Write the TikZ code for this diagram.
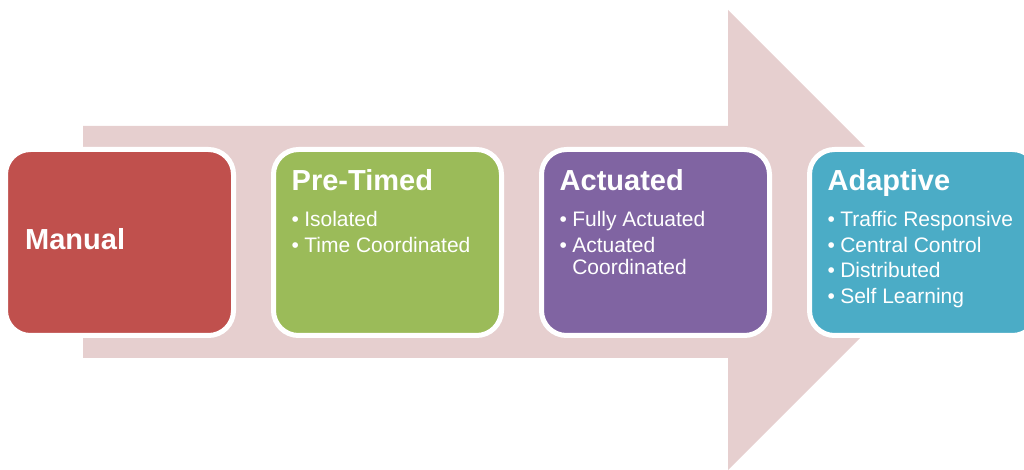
\documentclass[tikz,border=0pt]{standalone}
\usepackage{fontspec}
\setmainfont{Liberation Sans}
\usepackage{tikz}
\usetikzlibrary{positioning,calc}
\definecolor{arrowpink}{RGB}{230,207,207}
\definecolor{manualred}{HTML}{C0504D}
\definecolor{pretimedgreen}{HTML}{9BBB59}
\definecolor{actuatedpurple}{HTML}{8064A2}
\definecolor{adaptiveteal}{HTML}{4BACC6}
\newcommand{\stagelist}[1]{\begin{tabular}[t]{@{}l@{\hspace{.25em}}l@{}}#1\end{tabular}}
\tikzset{
	flow arrow/.style={fill=arrowpink,draw=none},
	stage/.style={draw=white,line width=5pt,fill=#1,rounded corners=25pt,
		minimum width=228pt,minimum height=186pt,inner sep=0pt,outer sep=0pt},
	stage title/.style={text=white,font=\fontsize{29}{33}\selectfont\bfseries,
		inner sep=0pt,anchor=base west},
	stage items/.style={text=white,font=\fontsize{21}{25.5}\selectfont,
		inner sep=0pt,anchor=base west}
}

\begin{document}
\begin{tikzpicture}[x=1pt,y=1pt]
	\useasboundingbox (0,0) rectangle (1024,470);
	\clip (0,0) rectangle (1024,470);
	\fill[flow arrow] (83,112) -- (83,344) -- (728,344) -- (728,460) -- (958,230)
		-- (728,0) -- (728,112) -- cycle;
	\node[stage=manualred, anchor=north west] (manual) at (5.5,320.5) {};
	\node[stage=pretimedgreen, right=40pt of manual] (pretimed) {};
	\node[stage=actuatedpurple, right=40pt of pretimed] (actuated) {};
	\node[stage=adaptiveteal, right=40pt of actuated] (adaptive) {};
	% titles
	\node[stage title] (manual title) at ($(manual.west)+(19.5,-7.5)$) {Manual};
	\node[stage title] (pretimed title) at ($(pretimed.north west)+(18,-41.5)$) {Pre-Timed};
	\node[stage title] (actuated title) at ($(actuated.north west)+(18,-41.5)$) {Actuated};
	\node[stage title] (adaptive title) at ($(adaptive.north west)+(18,-41.5)$) {Adaptive};
	% bullet lists
	\node[stage items] (pretimed items) at ($(pretimed.north west)+(18,-77.5)$)
		{\stagelist{• & Isolated\\ • & Time Coordinated}};
	\node[stage items] (actuated items) at ($(actuated.north west)+(18,-77.5)$)
		{\stagelist{• & Fully Actuated\\ • & Actuated\\[-3.5pt] & Coordinated}};
	\node[stage items] (adaptive items) at ($(adaptive.north west)+(18,-77.5)$)
		{\stagelist{• & Traffic Responsive\\ • & Central Control\\ • & Distributed\\ • & Self Learning}};
\end{tikzpicture}
\end{document}
